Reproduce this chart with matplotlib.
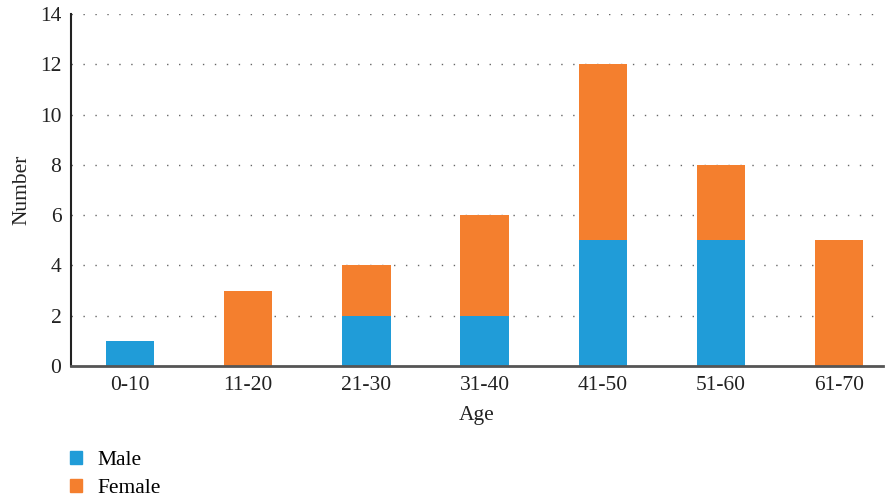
import matplotlib
matplotlib.use("Agg")
import matplotlib.pyplot as plt
from matplotlib.patches import Patch

categories = ["0-10", "11-20", "21-30", "31-40", "41-50", "51-60", "61-70"]
male = [1, 0, 2, 2, 5, 5, 0]
female = [0, 3, 2, 4, 7, 3, 5]
yticks = [0, 2, 4, 6, 8, 10, 12, 14]

plt.rcParams['font.family'] = ['Liberation Serif', 'DejaVu Serif']
FS = 15.5

fig = plt.figure(figsize=(8.85, 4.98), dpi=100)
ax = fig.add_axes([0.0802, 0.2651, 0.9175, 0.7068])

x = list(range(len(categories)))
blue = "#209cd8"
orange = "#f47f2e"
ax.bar(x, male, width=0.41, color=blue, zorder=3, label="Male")
ax.bar(x, female, width=0.41, bottom=male, color=orange, zorder=3, label="Female")

ax.set_xlim(-0.5, 6.37)
ax.set_ylim(0, 14)
ax.set_yticks(yticks)
ax.set_xticks(x)
ax.set_xticklabels(categories)
ax.tick_params(axis='x', length=0, labelsize=FS, colors="#222222", pad=7)
ax.tick_params(axis='y', length=0, labelsize=FS, colors="#222222", pad=7)

for t in yticks[1:]:
    ax.axhline(t, color="#666666", lw=1.0, linestyle=(0, (1, 7.6)), zorder=1)

for s in ["top", "right"]:
    ax.spines[s].set_visible(False)
ax.spines["left"].set_color("#222222")
ax.spines["left"].set_linewidth(1.5)
ax.spines["bottom"].set_color("#555555")
ax.spines["bottom"].set_linewidth(2)
ax.spines["bottom"].set_zorder(4)

ax.set_xlabel("Age", fontsize=FS, color="#222222", labelpad=8)
ax.set_ylabel("Number", fontsize=FS, color="#222222", labelpad=6)

handles = [Patch(color=blue, label="Male"), Patch(color=orange, label="Female")]
fig.legend(handles=handles, loc="upper left", bbox_to_anchor=(0.079, 0.095),
           frameon=False, fontsize=FS, handlelength=0.55, handleheight=0.55,
           handletextpad=0.75, labelspacing=0.42, borderaxespad=0, borderpad=0)

fig.savefig("out.png", dpi=100)
